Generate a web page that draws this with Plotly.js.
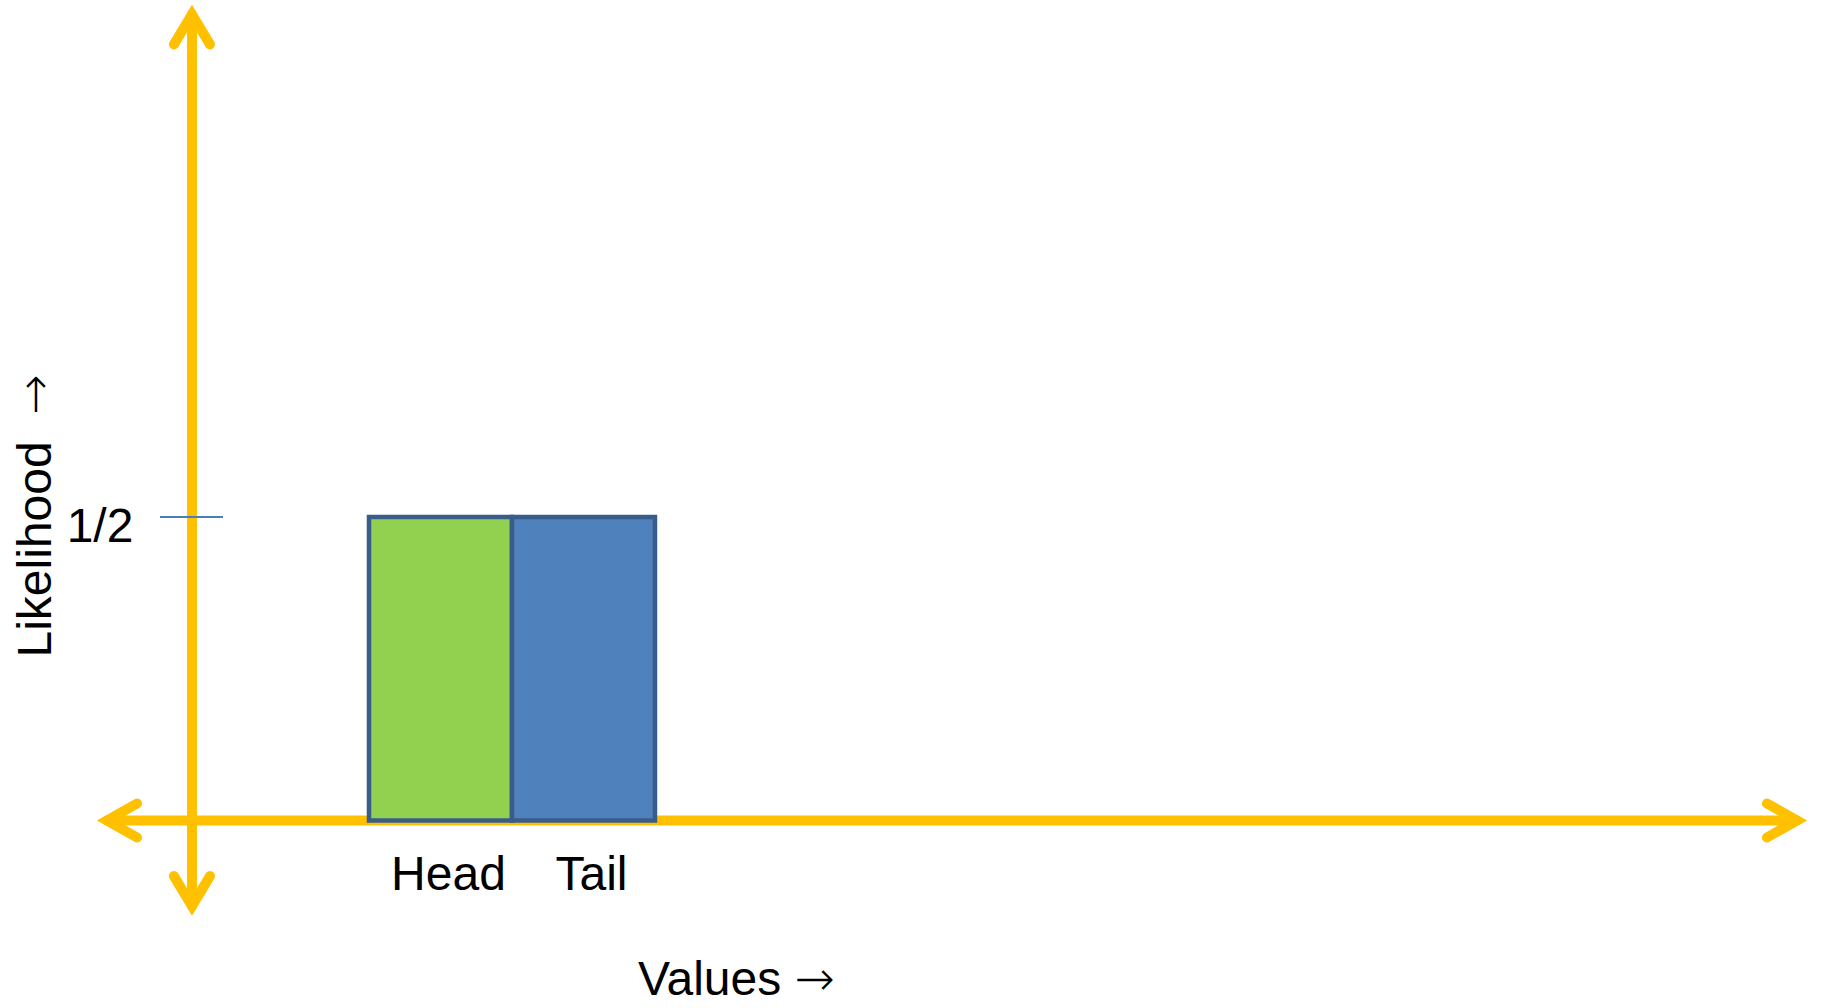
<!DOCTYPE html>
<html>
<head>
<meta charset="utf-8">
<script src="https://cdn.plot.ly/plotly-3.0.1.min.js"></script>
<style>
  html, body { margin: 0; padding: 0; background: #ffffff; }
  #chart { width: 1821px; height: 1008px; }
  /* rounded ends on the axis arrows, sharp tips */
  .shapelayer path { stroke-linecap: round; stroke-linejoin: miter; }
</style>
</head>
<body>
<div id="chart"></div>
<script>
// Outcomes of a fair coin toss and their likelihoods
const outcomes = ['Head', 'Tail'];
const positions = [0, 1];
const likelihood = [0.5, 0.5];

// Likelihood axis tick
const yTickVals = [0.5];
const yTickText = ['1/2'];

// Styling
const BAR_COLORS = ['#92D050', '#4F81BD'];
const BAR_EDGE = '#385D8A';
const AXIS_GOLD = '#FFC000';
const TICK_BLUE = '#4A7EBB';
const FONT = 'Liberation Sans, Arial, sans-serif';
const FONT_SIZE = 48;
const ARROW = '<span style="font-family:DejaVu Sans;font-weight:200">→</span>';

// Axis arrow extents (data units)
const Y_ARROW_X = -1.738;
const Y_ARROW_SPAN = [-0.141, 1.328];
const X_ARROW_SPAN = [-2.332, 9.486];

function head(xa, ya, path) {
  return {
    type: 'path', layer: 'below', xref: 'x', yref: 'y',
    xsizemode: 'pixel', ysizemode: 'pixel', xanchor: xa, yanchor: ya,
    path: path, line: {color: AXIS_GOLD, width: 10}
  };
}

const shapes = [
  // horizontal axis shaft
  {type: 'line', layer: 'below', xref: 'x', yref: 'y',
   x0: X_ARROW_SPAN[0], x1: X_ARROW_SPAN[1], y0: 0, y1: 0,
   line: {color: AXIS_GOLD, width: 10}},
  // vertical axis shaft
  {type: 'line', layer: 'below', xref: 'x', yref: 'y',
   x0: Y_ARROW_X, x1: Y_ARROW_X, y0: Y_ARROW_SPAN[0], y1: Y_ARROW_SPAN[1],
   line: {color: AXIS_GOLD, width: 10}},
  head(Y_ARROW_X, Y_ARROW_SPAN[1], 'M -18,-30 L 0,0 L 18,-30'),
  head(Y_ARROW_X, Y_ARROW_SPAN[0], 'M -18,30 L 0,0 L 18,30'),
  head(X_ARROW_SPAN[0], 0, 'M 30,17 L 0,0 L 30,-17'),
  head(X_ARROW_SPAN[1], 0, 'M -30,17 L 0,0 L -30,-17')
];

const trace = {
  type: 'bar',
  x: positions,
  y: likelihood,
  width: 1,
  marker: {color: BAR_COLORS, line: {color: BAR_EDGE, width: 4.5}},
  hoverinfo: 'skip'
};

const layout = {
  width: 1821, height: 1008,
  margin: {l: 0, r: 0, t: 0, b: 0, pad: 0},
  paper_bgcolor: '#ffffff', plot_bgcolor: '#ffffff',
  showlegend: false,
  font: {family: FONT, color: '#000000', size: FONT_SIZE},
  xaxis: {
    range: [-3.0804, 9.654],
    anchor: 'free', position: 0.1855,
    tickvals: positions, ticktext: outcomes,
    ticks: '', showline: false, showgrid: false, zeroline: false,
    tickfont: {family: FONT, size: FONT_SIZE, color: '#000000'},
    ticklabelstandoff: 20,
    ticklabelshift: 8,
    fixedrange: true
  },
  yaxis: {
    range: [-0.3089, 1.3517],
    anchor: 'free', position: 223 / 1821,
    tickvals: yTickVals, ticktext: yTickText,
    ticks: 'outside', ticklen: 63, tickwidth: 1.5, tickcolor: TICK_BLUE,
    showline: false, showgrid: false, zeroline: false,
    tickfont: {family: FONT, size: FONT_SIZE, color: '#000000'},
    ticklabelstandoff: 17,
    ticklabelshift: 8,
    fixedrange: true
  },
  shapes: shapes,
  annotations: [
    {text: 'Values ' + ARROW, xref: 'paper', yref: 'paper', x: 736 / 1821, y: 0.030,
     xanchor: 'center', yanchor: 'middle', showarrow: false,
     font: {family: FONT, size: FONT_SIZE, color: '#000000'}},
    {text: 'Likelihood  ' + ARROW, xref: 'paper', yref: 'paper', x: 34 / 1821, y: 0.4876,
     xanchor: 'center', yanchor: 'middle', showarrow: false, textangle: -90,
     font: {family: FONT, size: FONT_SIZE, color: '#000000'}}
  ]
};

Plotly.newPlot('chart', [trace], layout, {displayModeBar: false, staticPlot: true});
</script>
</body>
</html>
